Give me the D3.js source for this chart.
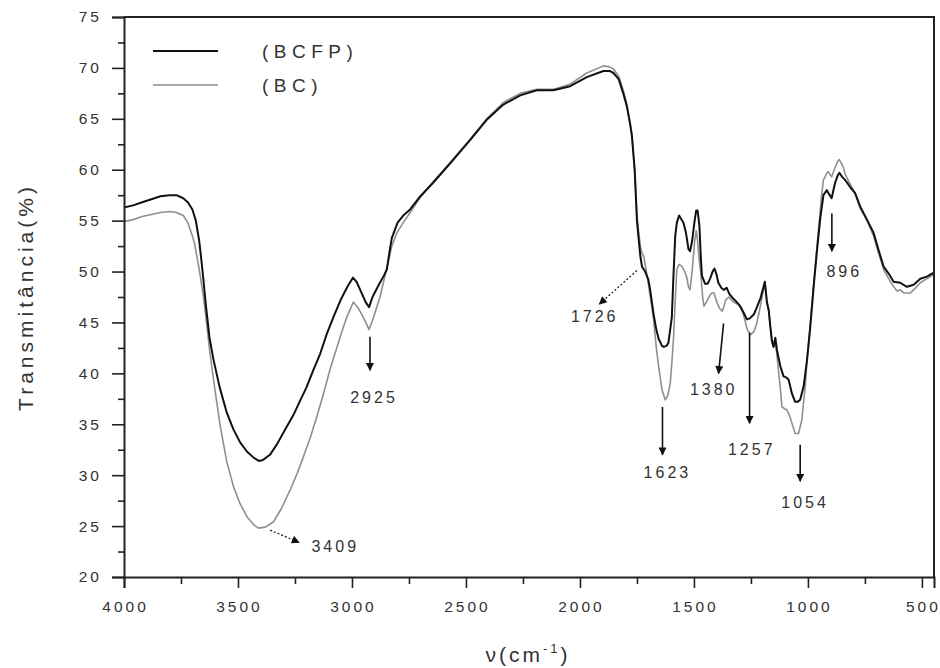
<!DOCTYPE html>
<html>
<head>
<meta charset="utf-8">
<script src="https://cdn.jsdelivr.net/npm/d3@7"></script>
<style>
  html, body { margin: 0; padding: 0; background: #fff; }
  svg { display: block; }
  text { font-family: "Liberation Sans", Arial, sans-serif; fill: #333; }
</style>
</head>
<body>
<svg id="chart" width="940" height="668"></svg>
<script>
// FTIR spectra: [wavenumber (cm^-1), transmittance (%)]
const bcfp = [
  [4000,56.3],[3960,56.5],[3920,56.8],[3880,57.1],[3840,57.4],[3800,57.5],[3770,57.5],
  [3740,57.2],[3720,56.8],[3700,56.1],[3685,55.0],[3670,53.0],[3660,51.0],[3650,48.8],
  [3640,46.5],[3625,43.5],[3608,41.4],[3580,38.6],[3550,36.2],[3520,34.5],[3490,33.2],
  [3460,32.3],[3430,31.7],[3409,31.4],[3390,31.5],[3360,32.0],[3330,33.0],[3290,34.6],
  [3257,35.9],[3230,37.2],[3200,38.6],[3170,40.3],[3140,41.9],[3110,43.9],[3080,45.6],
  [3050,47.2],[3020,48.5],[2996,49.4],[2980,49.0],[2960,48.0],[2940,47.0],[2925,46.5],
  [2910,47.5],[2880,48.8],[2860,49.6],[2847,50.2],[2835,52.0],[2825,53.3],[2800,54.8],
  [2775,55.5],[2745,56.1],[2700,57.4],[2645,58.7],[2570,60.6],[2482,62.9],[2409,64.9],
  [2336,66.4],[2262,67.3],[2189,67.8],[2116,67.8],[2043,68.2],[1970,69.1],[1897,69.7],
  [1870,69.7],[1853,69.5],[1830,68.9],[1810,67.5],[1794,66.2],[1780,64.5],[1772,63.3],
  [1760,60.0],[1750,55.0],[1743,53.3],[1735,51.5],[1728,50.5],[1714,50.0],[1700,49.2],
  [1692,48.2],[1677,45.8],[1665,44.3],[1655,43.4],[1640,42.7],[1633,42.6],[1620,42.7],
  [1612,43.0],[1597,45.5],[1590,49.5],[1582,53.5],[1575,54.8],[1565,55.5],[1560,55.3],
  [1546,54.8],[1535,53.8],[1524,52.2],[1517,52.0],[1508,53.0],[1497,55.0],[1490,56.0],
  [1484,56.0],[1476,54.5],[1470,51.5],[1465,49.6],[1451,48.8],[1440,48.8],[1429,49.3],
  [1418,50.0],[1410,50.3],[1402,49.8],[1393,48.9],[1380,48.4],[1370,48.2],[1356,48.4],
  [1345,47.8],[1330,47.4],[1312,47.0],[1297,46.6],[1283,46.0],[1268,45.3],[1255,45.4],
  [1237,45.8],[1222,46.6],[1208,47.4],[1196,48.4],[1189,49.0],[1180,47.0],[1172,46.2],
  [1165,44.6],[1158,43.2],[1151,42.6],[1143,43.5],[1136,42.3],[1121,40.7],[1107,39.7],
  [1095,39.6],[1085,39.4],[1070,38.0],[1056,37.2],[1045,37.2],[1034,37.4],[1019,38.7],
  [1004,41.3],[990,44.5],[975,48.5],[961,51.9],[946,55.2],[932,57.5],[917,58.0],
  [910,57.7],[896,57.2],[888,58.0],[881,58.7],[870,59.4],[862,59.7],[850,59.3],
  [837,59.0],[815,58.3],[793,57.7],[771,56.4],[741,55.1],[712,53.8],[690,52.1],
  [668,50.5],[646,49.8],[624,49.0],[595,48.9],[566,48.5],[536,48.7],[507,49.3],
  [478,49.5],[456,49.8],[447,49.9]
];

const bc = [
  [4000,54.9],[3960,55.1],[3920,55.4],[3880,55.6],[3840,55.8],[3800,55.9],[3770,55.8],
  [3740,55.5],[3720,54.8],[3700,53.5],[3690,52.7],[3670,50.2],[3652,47.6],[3637,44.8],
  [3623,42.0],[3600,38.2],[3579,35.0],[3550,31.4],[3520,28.9],[3491,27.2],[3460,25.9],
  [3430,25.1],[3409,24.8],[3380,24.9],[3345,25.4],[3310,26.7],[3272,28.5],[3240,30.2],
  [3213,31.8],[3180,33.9],[3155,35.7],[3125,38.0],[3096,40.4],[3067,42.5],
  [3040,44.4],[3023,45.5],[2994,47.0],[2975,46.5],[2950,45.5],[2925,44.3],[2910,45.2],
  [2877,47.5],[2847,50.4],[2825,52.5],[2803,53.8],[2775,54.8],[2745,55.8],[2700,57.3],
  [2645,58.8],[2570,60.7],[2482,63.0],[2409,65.0],[2336,66.6],[2262,67.5],[2189,67.9],
  [2116,67.9],[2043,68.4],[1970,69.5],[1897,70.2],[1870,70.1],[1853,69.9],[1830,69.2],
  [1810,67.8],[1794,66.4],[1780,64.6],[1772,63.4],[1760,60.0],[1750,55.5],[1743,54.0],
  [1735,52.5],[1728,51.8],[1720,51.5],[1710,50.2],[1700,48.8],[1690,47.3],[1677,45.3],
  [1665,42.5],[1655,40.7],[1640,38.4],[1626,37.4],[1615,37.8],[1604,39.0],[1597,41.0],
  [1590,43.3],[1582,47.2],[1575,50.2],[1565,50.7],[1553,50.5],[1540,50.0],[1531,49.4],
  [1524,48.5],[1517,48.2],[1508,50.0],[1497,53.0],[1490,54.0],[1484,53.0],[1476,51.0],
  [1470,49.9],[1462,47.5],[1456,46.6],[1445,47.0],[1434,47.5],[1422,47.9],[1412,47.9],
  [1405,47.4],[1398,46.9],[1388,46.4],[1376,46.1],[1368,46.6],[1361,47.2],[1347,47.5],
  [1335,47.2],[1325,47.0],[1303,46.7],[1290,46.2],[1281,45.6],[1266,44.3],[1252,43.8],
  [1237,44.1],[1226,44.8],[1215,45.9],[1200,47.6],[1189,48.9],[1180,47.0],[1172,46.2],
  [1165,44.6],[1158,43.2],[1151,42.6],[1143,43.0],[1136,41.8],[1121,38.5],[1114,36.7],
  [1100,36.5],[1092,36.4],[1080,35.8],[1070,35.1],[1056,34.1],[1041,34.1],[1027,35.4],
  [1012,38.7],[1004,41.3],[990,44.8],[975,48.7],[961,52.3],[946,56.0],[940,57.5],
  [932,59.0],[925,59.3],[917,59.7],[910,59.8],[903,59.5],[896,59.3],[888,59.8],
  [881,60.2],[870,60.8],[863,61.0],[855,60.7],[844,60.2],[837,59.6],[815,58.6],
  [793,57.7],[771,56.2],[741,55.0],[712,53.5],[690,51.8],[668,50.2],[646,49.3],
  [624,48.5],[609,48.1],[595,48.2],[580,47.9],[566,47.9],[551,47.9],[536,48.2],
  [507,48.9],[478,49.3],[456,49.6],[447,49.8]
];

const seriesNames = ["(BCFP)", "(BC)"];
const xMajorTicks = [4000, 3500, 3000, 2500, 2000, 1500, 1000, 500];
const xMinorTicks = [3750, 3250, 2750, 2250, 1750, 1250, 750];
const yMajorTicks = [20, 25, 30, 35, 40, 45, 50, 55, 60, 65, 70, 75];
const yMinorTicks = [22.5, 27.5, 32.5, 37.5, 42.5, 47.5, 52.5, 57.5, 62.5, 67.5, 72.5];

// Band annotations: label, arrow from (x1,y1) to (x2,y2), label centre (tx,ty), all in data units
const bandLabels = ["3409", "2925", "1726", "1623", "1380", "1257", "1054", "896"];
const bandArrows = [
  [3359, 24.6, 3232, 23.4],
  [2921, 43.6, 2921, 40.3],
  [1750, 50.1, 1915, 46.8],
  [1638, 36.7, 1638, 32.0],
  [1370, 44.9, 1392, 40.0],
  [1256, 44.0, 1256, 35.1],
  [1034, 33.0, 1034, 29.4],
  [895, 55.7, 895, 52.0]
];
const bandText = [
  [3080, 23.0], [2910, 37.7], [1942, 45.6], [1623, 30.3],
  [1420, 38.4], [1253, 32.5], [1019, 27.3], [847, 50.0]
];
const dashedArrows = ["3409", "1726"];

const svg = d3.select("#chart");
const plot = { left: 124, right: 934, top: 17, bottom: 577 };

const x = d3.scaleLinear().domain([4000, 447]).range([plot.left, plot.right]);
const y = d3.scaleLinear().domain([20, 75]).range([plot.bottom, plot.top]);

// Spectra (grey underneath, black on top)
const line = d3.line().x(d => x(d[0])).y(d => y(d[1]));
svg.append("path").datum(bc)
  .attr("d", line).attr("fill", "none")
  .attr("stroke", "#8f8f8f").attr("stroke-width", 1.6).attr("stroke-linejoin", "round");
svg.append("path").datum(bcfp)
  .attr("d", line).attr("fill", "none")
  .attr("stroke", "#111").attr("stroke-width", 2).attr("stroke-linejoin", "round");

// Frame (top and right edges)
svg.append("path")
  .attr("d", `M${plot.left},${plot.top}H${plot.right}V${plot.bottom}`)
  .attr("fill", "none").attr("stroke", "#222").attr("stroke-width", 2);

// Axes
const tickFont = g => g.selectAll("text")
  .attr("font-size", 15.5).attr("letter-spacing", "3px").attr("fill", "#333")
  .attr("font-family", "Liberation Sans, Arial, sans-serif");

const xAxis = svg.append("g").attr("transform", `translate(0,${plot.bottom})`)
  .call(d3.axisBottom(x).tickValues(xMajorTicks).tickSize(11).tickPadding(13)
    .tickFormat(d3.format("d")));
xAxis.call(tickFont);
xAxis.selectAll("text").attr("dx", "1px");
svg.append("g").attr("transform", `translate(0,${plot.bottom})`)
  .call(d3.axisBottom(x).tickValues(xMinorTicks).tickSize(7).tickFormat(""))
  .call(g => g.select(".domain").remove());

const yAxis = svg.append("g").attr("transform", `translate(${plot.left},0)`)
  .call(d3.axisLeft(y).tickValues(yMajorTicks).tickSize(12).tickPadding(10)
    .tickFormat(d3.format("d")));
yAxis.call(tickFont);
svg.append("g").attr("transform", `translate(${plot.left},0)`)
  .call(d3.axisLeft(y).tickValues(yMinorTicks).tickSize(6).tickFormat(""))
  .call(g => g.select(".domain").remove());

svg.selectAll(".domain").attr("stroke", "#222").attr("stroke-width", 2);
svg.selectAll(".tick line").attr("stroke", "#222").attr("stroke-width", 1.6);

// Axis titles
svg.append("text")
  .attr("transform", `translate(33,297) rotate(-90)`)
  .attr("text-anchor", "middle")
  .attr("font-size", 21).attr("letter-spacing", "4px")
  .text("Transmitância(%)");

const xTitle = svg.append("text")
  .attr("x", 528).attr("y", 662)
  .attr("text-anchor", "middle")
  .attr("font-size", 21).attr("letter-spacing", "3px");
xTitle.append("tspan").text("ν(cm");
xTitle.append("tspan").attr("font-size", 13).attr("dy", -9).text("-1");
xTitle.append("tspan").attr("dy", 9).text(")");

// Arrow heads
const defs = svg.append("defs");
defs.append("marker")
  .attr("id", "head").attr("viewBox", "0 0 10 10")
  .attr("refX", 9).attr("refY", 5)
  .attr("markerWidth", 10).attr("markerHeight", 8)
  .attr("markerUnits", "userSpaceOnUse")
  .attr("orient", "auto")
  .append("path").attr("d", "M0,0L10,5L0,10Z").attr("fill", "#111");

// Band annotations
bandLabels.forEach((lab, i) => {
  const [x1, y1, x2, y2] = bandArrows[i];
  svg.append("line")
    .attr("x1", x(x1)).attr("y1", y(y1)).attr("x2", x(x2)).attr("y2", y(y2))
    .attr("stroke", "#111").attr("stroke-width", dashedArrows.includes(lab) ? 1.2 : 1.6)
    .attr("stroke-dasharray", dashedArrows.includes(lab) ? "2,2" : null)
    .attr("marker-end", "url(#head)");
  const [tx, ty] = bandText[i];
  svg.append("text")
    .attr("x", x(tx) + 1.5).attr("y", y(ty))
    .attr("dy", "0.36em")
    .attr("text-anchor", "middle")
    .attr("font-size", 16).attr("letter-spacing", "3px")
    .text(lab);
});

// Legend
const legendColors = ["#111", "#8f8f8f"];
const legendWidths = [2, 1.6];
seriesNames.forEach((name, i) => {
  const ly = 51 + i * 34;
  svg.append("line")
    .attr("x1", 153).attr("x2", 218).attr("y1", ly).attr("y2", ly)
    .attr("stroke", legendColors[i]).attr("stroke-width", legendWidths[i]);
  svg.append("text")
    .attr("x", 262).attr("y", ly).attr("dy", "0.36em")
    .attr("font-size", 19).attr("letter-spacing", "5.5px")
    .text(name);
});
</script>
</body>
</html>
